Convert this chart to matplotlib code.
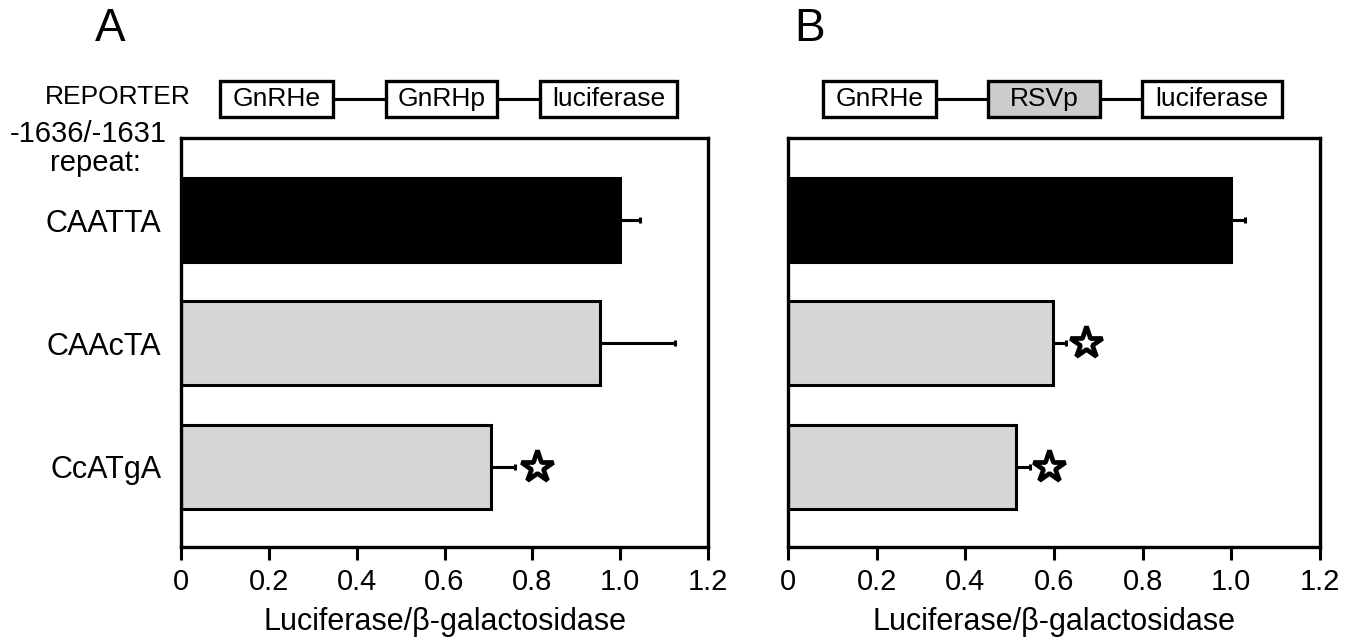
import numpy as np
import matplotlib.pyplot as plt
from matplotlib.patches import Rectangle
from matplotlib.lines import Line2D

plt.rcParams['font.family'] = ['Liberation Sans', 'DejaVu Sans']

# data
repeats = ['CAATTA', 'CAAcTA', 'CcATgA']
values_a = [1.00, 0.955, 0.705]
errors_a = [0.045, 0.17, 0.055]
star_a = [np.nan, np.nan, 0.81]
values_b = [1.00, 0.598, 0.515]
errors_b = [0.03, 0.03, 0.03]
star_b = [np.nan, 0.672, 0.588]
bar_colors = ['black', '#d6d6d6', '#d6d6d6']

constructs_a = ['GnRHe', 'GnRHp', 'luciferase']
constructs_b = ['GnRHe', 'RSVp', 'luciferase']
construct_fill_b = ['white', '#cccccc', 'white']

xticks = [0, 0.2, 0.4, 0.6, 0.8, 1.0, 1.2]
xticklabels = ['0', '0.2', '0.4', '0.6', '0.8', '1.0', '1.2']

W, H = 1351, 640
fig = plt.figure(figsize=(W / 100, H / 100), dpi=100)


def px(x, y):
    # pixel position -> figure fraction
    return x / W, 1 - y / H


## drawPanel
#
# Horizontal bar panel with one-sided error bars and significance stars
def drawPanel(ax, values, errors, stars, show_labels):
    y = np.arange(len(values))
    ax.barh(y, values, height=0.68, color=bar_colors, edgecolor='black',
            linewidth=2.2, zorder=2)
    ax.errorbar(values, y, xerr=[np.zeros(len(errors)), errors], fmt='none',
                ecolor='black', elinewidth=2.2, capsize=2, capthick=2.2, zorder=1)
    ax.plot(stars, y, linestyle='none', marker='*', markersize=24,
            markerfacecolor='white', markeredgecolor='black',
            markeredgewidth=3.4, zorder=3)
    ax.set_xlim(0, 1.2)
    ax.set_ylim(2.65, -0.665)
    ax.set_xticks(xticks)
    ax.set_xticklabels(xticklabels, fontsize=21)
    ax.tick_params(axis='x', direction='out', length=9, width=2.2, pad=6)
    if show_labels:
        ax.set_yticks(y)
        ax.set_yticklabels(repeats, fontsize=22)
        ax.tick_params(axis='y', length=0, pad=14)
    else:
        ax.set_yticks([])
    for s in ax.spines.values():
        s.set_linewidth(2.4)
    ax.set_xlabel('Luciferase/\u03b2-galactosidase', fontsize=22, labelpad=8)


## drawConstruct
#
# Reporter construct diagram: three boxes joined by a line
def drawConstruct(names, fills, xs):
    y0, y1 = 81, 117
    ym = (y0 + y1) / 2
    fx0, fym = px(xs[0][1], ym)
    fx1, _ = px(xs[-1][0], ym)
    fig.add_artist(Line2D([fx0, fx1], [fym, fym], color='black', lw=2.2,
                          transform=fig.transFigure, zorder=1))
    for name, fill, (a, b) in zip(names, fills, xs):
        bx, by = px(a, y1)
        fig.add_artist(Rectangle((bx, by), (b - a) / W, (y1 - y0) / H,
                                 facecolor=fill, edgecolor='black', lw=2.4,
                                 transform=fig.transFigure, zorder=2))
        cx, cy = px((a + b) / 2, ym)
        fig.text(cx, cy, name, ha='center', va='center', fontsize=19, zorder=3)


ax_a = fig.add_axes([181 / W, 1 - 547 / H, 527 / W, 409 / H])
drawPanel(ax_a, values_a, errors_a, star_a, True)

ax_b = fig.add_axes([788 / W, 1 - 547 / H, 532 / W, 409 / H])
drawPanel(ax_b, values_b, errors_b, star_b, False)

drawConstruct(constructs_a, ['white'] * 3, [(220, 333), (386, 497), (540, 677)])
drawConstruct(constructs_b, construct_fill_b, [(823, 936), (988, 1100), (1142, 1282)])

fig.text(*px(110, 29), 'A', fontsize=33, ha='center', va='center')
fig.text(*px(810, 29), 'B', fontsize=33, ha='center', va='center')
fig.text(*px(118, 97), 'REPORTER', fontsize=19, ha='center', va='center')
fig.text(*px(88, 134), '-1636/-1631', fontsize=21, ha='center', va='center')
fig.text(*px(95, 163), 'repeat:', fontsize=21, ha='center', va='center')

fig.savefig('out.png', dpi=100)
